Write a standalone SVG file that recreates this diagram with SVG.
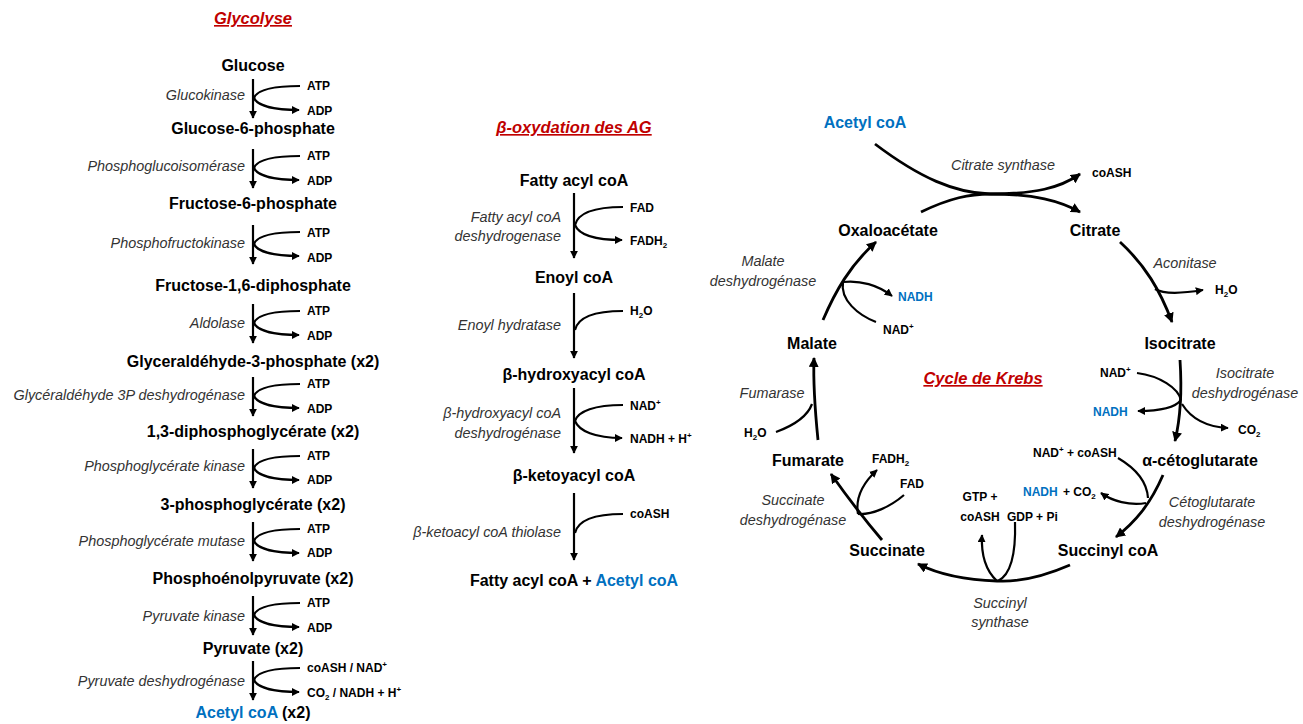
<svg xmlns="http://www.w3.org/2000/svg" width="1303" height="724" viewBox="0 0 1303 724">
<style>
text{font-family:"Liberation Sans",Arial,sans-serif}
.t{font-weight:bold;font-size:16px;text-anchor:middle;fill:#000}
.e{font-style:italic;font-size:14.4px;text-anchor:end;fill:#333}
.em{font-style:italic;font-size:14.4px;text-anchor:middle;fill:#333}
.s{font-weight:bold;font-size:12px;fill:#000}
.sm{font-weight:bold;font-size:12px;fill:#000;text-anchor:middle}
.ti{font-weight:bold;font-style:italic;font-size:16.5px;text-anchor:middle;fill:#c00000;text-decoration:underline}
.b{fill:#0070c0}
.sup{font-size:8px}
.ln{fill:none;stroke:#000;stroke-width:2.2}
.kl{fill:none;stroke:#000;stroke-width:2.8}
.kt{fill:none;stroke:#000;stroke-width:2.2}
</style>
<defs>
<marker id="a" viewBox="0 0 10 10" refX="9" refY="5" markerWidth="8" markerHeight="8" markerUnits="userSpaceOnUse" orient="auto"><path d="M0,0 L10,5 L0,10 z" fill="#000"/></marker>
<marker id="k" viewBox="0 0 10 10" refX="9" refY="5" markerWidth="10" markerHeight="10" markerUnits="userSpaceOnUse" orient="auto"><path d="M0,0 L10,5 L0,10 z" fill="#000"/></marker>
<g id="gstep">
<path class="ln" d="M253,0 V39" marker-end="url(#a)"/>
<path class="ln" d="M300,7 C272,7 257,11 254,19"/>
<path class="ln" d="M254,19 C257,26 272,31 299,31" marker-end="url(#a)"/>
</g>
</defs>

<g id="glycolyse">
<text class="ti" x="253" y="24">Glycolyse</text>
<g id="g-glucose"><text class="t" x="253" y="71">Glucose</text></g>
<g id="g-g6p"><text class="t" x="253" y="134">Glucose-6-phosphate</text></g>
<g id="g-f6p"><text class="t" x="253" y="209">Fructose-6-phosphate</text></g>
<g id="g-f16dp"><text class="t" x="253" y="291">Fructose-1,6-diphosphate</text></g>
<g id="g-g3p"><text class="t" x="253" y="367">Glyceraldéhyde-3-phosphate (x2)</text></g>
<g id="g-13dpg"><text class="t" x="253" y="437">1,3-diphosphoglycérate (x2)</text></g>
<g id="g-3pg"><text class="t" x="253" y="510">3-phosphoglycérate (x2)</text></g>
<g id="g-pep"><text class="t" x="253" y="584">Phosphoénolpyruvate (x2)</text></g>
<g id="g-pyr"><text class="t" x="253" y="654">Pyruvate (x2)</text></g>
<g id="g-acoa"><text class="t" x="253" y="718"><tspan class="b">Acetyl coA</tspan> (x2)</text></g>
</g>

<g id="glycolyse-connectors">
<use href="#gstep" transform="translate(0,79)"/>
<use href="#gstep" transform="translate(0,149)"/>
<use href="#gstep" transform="translate(0,225)"/>
<use href="#gstep" transform="translate(0,304)"/>
<use href="#gstep" transform="translate(0,377)"/>
<use href="#gstep" transform="translate(0,449)"/>
<use href="#gstep" transform="translate(0,522)"/>
<use href="#gstep" transform="translate(0,596)"/>
<use href="#gstep" transform="translate(0,661)"/>
</g>

<g id="glycolyse-labels">
<text class="e" x="245" y="100">Glucokinase</text>
<text class="e" x="245" y="171">Phosphoglucoisomérase</text>
<text class="e" x="245" y="248">Phosphofructokinase</text>
<text class="e" x="245" y="328">Aldolase</text>
<text class="e" x="245" y="400">Glycéraldéhyde 3P deshydrogénase</text>
<text class="e" x="245" y="471">Phosphoglycérate kinase</text>
<text class="e" x="245" y="546">Phosphoglycérate mutase</text>
<text class="e" x="245" y="621">Pyruvate kinase</text>
<text class="e" x="245" y="686">Pyruvate deshydrogénase</text>
<text class="s" x="307" y="90">ATP</text><text class="s" x="307" y="115">ADP</text>
<text class="s" x="307" y="160">ATP</text><text class="s" x="307" y="185">ADP</text>
<text class="s" x="307" y="237">ATP</text><text class="s" x="307" y="262">ADP</text>
<text class="s" x="307" y="315">ATP</text><text class="s" x="307" y="340">ADP</text>
<text class="s" x="307" y="388">ATP</text><text class="s" x="307" y="413">ADP</text>
<text class="s" x="307" y="460">ATP</text><text class="s" x="307" y="484">ADP</text>
<text class="s" x="307" y="533">ATP</text><text class="s" x="307" y="557">ADP</text>
<text class="s" x="307" y="607">ATP</text><text class="s" x="307" y="632">ADP</text>
<text class="s" x="307" y="672">coASH / NAD<tspan class="sup" dy="-5">+</tspan></text>
<text class="s" x="307" y="697">CO<tspan class="sup" dy="3">2</tspan><tspan dy="-3"> / NADH + H</tspan><tspan class="sup" dy="-5">+</tspan></text>
</g>

<g id="boxidation">
<text class="ti" x="574" y="133">β-oxydation des AG</text>
<g id="b-fattyacyl"><text class="t" x="574" y="186">Fatty acyl coA</text></g>
<g id="b-enoyl"><text class="t" x="574" y="283">Enoyl coA</text></g>
<g id="b-hydroxy"><text class="t" x="574" y="380">β-hydroxyacyl coA</text></g>
<g id="b-keto"><text class="t" x="574" y="481">β-ketoyacyl coA</text></g>
<g id="b-product"><text class="t" x="574" y="586">Fatty acyl coA + <tspan class="b">Acetyl coA</tspan></text></g>
</g>

<g id="boxidation-connectors">
<path class="ln" d="M574,193 V258" marker-end="url(#a)"/>
<path class="ln" d="M623,207 C595,207 578,213 575,225"/>
<path class="ln" d="M575,225 C579,235 595,240 622,240" marker-end="url(#a)"/>
<path class="ln" d="M574,293 V358" marker-end="url(#a)"/>
<path class="ln" d="M623,311 C595,311 578,317 575,330"/>
<path class="ln" d="M574,388 V453" marker-end="url(#a)"/>
<path class="ln" d="M623,405 C595,405 578,411 575,421"/>
<path class="ln" d="M575,421 C579,431 595,438 622,438" marker-end="url(#a)"/>
<path class="ln" d="M574,493 V560" marker-end="url(#a)"/>
<path class="ln" d="M623,514 C595,514 578,520 575,533"/>
</g>

<g id="boxidation-labels">
<text class="e" x="561" y="222">Fatty acyl coA</text>
<text class="e" x="561" y="241">deshydrogenase</text>
<text class="e" x="561" y="330">Enoyl hydratase</text>
<text class="e" x="561" y="418">β-hydroxyacyl coA</text>
<text class="e" x="561" y="438">deshydrogénase</text>
<text class="e" x="561" y="537">β-ketoacyl coA thiolase</text>
<text class="s" x="630" y="212">FAD</text>
<text class="s" x="630" y="245">FADH<tspan class="sup" dy="3">2</tspan></text>
<text class="s" x="630" y="315">H<tspan class="sup" dy="3">2</tspan><tspan dy="-3">O</tspan></text>
<text class="s" x="630" y="410">NAD<tspan class="sup" dy="-5">+</tspan></text>
<text class="s" x="630" y="443">NADH + H<tspan class="sup" dy="-5">+</tspan></text>
<text class="s" x="630" y="518">coASH</text>
</g>

<g id="krebs">
<text class="ti" x="983" y="384">Cycle de Krebs</text>
<g id="k-acetyl"><text class="t b" x="865" y="128">Acetyl coA</text></g>
<g id="k-oxalo"><text class="t" x="888" y="236">Oxaloacétate</text></g>
<g id="k-citrate"><text class="t" x="1095" y="236">Citrate</text></g>
<g id="k-isocitrate"><text class="t" x="1180" y="349">Isocitrate</text></g>
<g id="k-aceto"><text class="t" x="1200" y="466">α-cétoglutarate</text></g>
<g id="k-succinylcoa"><text class="t" x="1108" y="556">Succinyl coA</text></g>
<g id="k-succinate"><text class="t" x="887" y="556">Succinate</text></g>
<g id="k-fumarate"><text class="t" x="808" y="466">Fumarate</text></g>
<g id="k-malate"><text class="t" x="812" y="349">Malate</text></g>
</g>

<g id="krebs-connectors">
<path class="kl" d="M875,144 C920,178 955,193 990,194 C1035,194 1060,188 1080,174" marker-end="url(#k)"/>
<path class="kl" d="M921,212 C950,198 970,194 990,194 C1035,194 1060,201 1080,212" marker-end="url(#k)"/>
<path class="kl" d="M1120,242 C1145,265 1160,290 1172,322" marker-end="url(#k)"/>
<path class="kt" d="M1155,289 C1165,295 1185,293 1203,290" marker-end="url(#a)"/>
<path class="kl" d="M1180,360 C1182,390 1180,420 1175,441" marker-end="url(#k)"/>
<path class="kt" d="M1137,373 C1160,376 1178,388 1181,400"/>
<path class="kt" d="M1181,400 C1175,408 1160,411 1138,411" marker-end="url(#a)"/>
<path class="kt" d="M1182,404 C1192,420 1208,427 1228,428" marker-end="url(#a)"/>
<path class="kl" d="M1163,475 C1150,505 1135,522 1116,537" marker-end="url(#k)"/>
<path class="kt" d="M1118,458 C1135,468 1147,482 1148,498"/>
<path class="kt" d="M1146,503 C1130,506 1112,501 1101,493" marker-end="url(#a)"/>
<path class="kl" d="M1070,565 C1040,578 1015,582 997,581 C965,580 940,575 918,564" marker-end="url(#k)"/>
<path class="kt" d="M1015,522 C1016,555 1010,575 998,581"/>
<path class="kt" d="M997,581 C985,570 981,555 982,535" marker-end="url(#a)"/>
<path class="kl" d="M882,540 C865,520 848,498 831,474" marker-end="url(#k)"/>
<path class="kt" d="M904,495 C890,507 872,515 858,514"/>
<path class="kt" d="M858,514 C855,497 864,482 877,470" marker-end="url(#a)"/>
<path class="kl" d="M818,440 C815,410 813,385 814,358" marker-end="url(#k)"/>
<path class="kt" d="M776,432 C795,425 808,415 812,404"/>
<path class="kl" d="M823,320 C835,292 850,265 876,242" marker-end="url(#k)"/>
<path class="kt" d="M843,282 C860,280 878,285 892,296" marker-end="url(#a)"/>
<path class="kt" d="M843,282 C840,300 858,315 876,322"/>
</g>

<g id="krebs-labels">
<text class="em" x="1003" y="170">Citrate synthase</text>
<text class="em" x="1185" y="268">Aconitase</text>
<text class="em" x="1245" y="378">Isocitrate</text>
<text class="em" x="1245" y="398">deshydrogénase</text>
<text class="em" x="1212" y="507">Cétoglutarate</text>
<text class="em" x="1212" y="527">deshydrogénase</text>
<text class="em" x="1000" y="608">Succinyl</text>
<text class="em" x="1000" y="627">synthase</text>
<text class="em" x="793" y="505">Succinate</text>
<text class="em" x="793" y="525">deshydrogénase</text>
<text class="em" x="772" y="398">Fumarase</text>
<text class="em" x="763" y="266">Malate</text>
<text class="em" x="763" y="286">deshydrogénase</text>
<text class="s" x="1092" y="177">coASH</text>
<text class="s" x="1215" y="294">H<tspan class="sup" dy="3">2</tspan><tspan dy="-3">O</tspan></text>
<text class="s" x="1100" y="377">NAD<tspan class="sup" dy="-5">+</tspan></text>
<text class="s b" x="1093" y="416">NADH</text>
<text class="s" x="1238" y="434">CO<tspan class="sup" dy="3">2</tspan></text>
<text class="s" x="1033" y="457">NAD<tspan class="sup" dy="-5">+</tspan><tspan dy="5"> + coASH</tspan></text>
<text class="s b" x="1023" y="496">NADH</text>
<text class="s" x="1063" y="496">+ CO<tspan class="sup" dy="3">2</tspan></text>
<text class="s" x="1007" y="521">GDP + Pi</text>
<text class="sm" x="980" y="501">GTP +</text>
<text class="sm" x="980" y="521">coASH</text>
<text class="s" x="872" y="463">FADH<tspan class="sup" dy="3">2</tspan></text>
<text class="s" x="900" y="488">FAD</text>
<text class="s" x="744" y="437">H<tspan class="sup" dy="3">2</tspan><tspan dy="-3">O</tspan></text>
<text class="s b" x="898" y="301">NADH</text>
<text class="s" x="883" y="334">NAD<tspan class="sup" dy="-5">+</tspan></text>
</g>
</svg>
